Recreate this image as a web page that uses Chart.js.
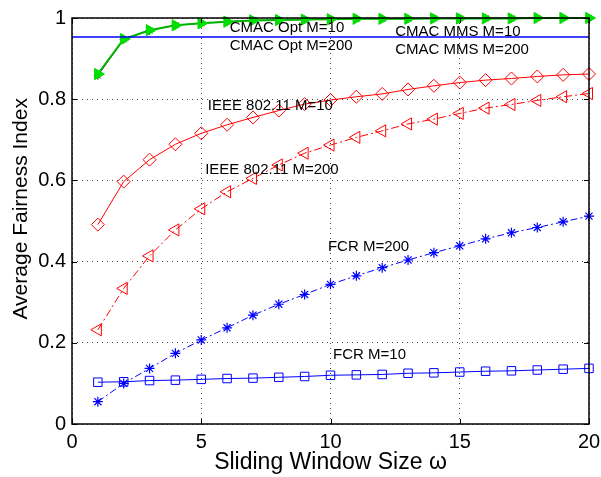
<!DOCTYPE html>
<html>
<head>
<meta charset="utf-8">
<script src="https://cdn.jsdelivr.net/npm/chart.js@4/dist/chart.umd.min.js"></script>
<style>
html,body{margin:0;padding:0;background:#fff;}
</style>
</head>
<body>
<canvas id="chart1canvas" width="601" height="477"></canvas>
<script>
/* Data */
const windowSizes=[1,2,3,4,5,6,7,8,9,10,11,12,13,14,15,16,17,18,19,20];
const cmacOpt=[0.862,0.948,0.970,0.982,0.987,0.991,0.994,0.995,0.996,0.997,0.998,0.998,0.998,0.999,0.999,0.999,0.999,1.0,1.0,1.0];
const cmacMms=[0.858,0.947,0.969,0.982,0.987,0.991,0.994,0.995,0.996,0.997,0.998,0.998,0.998,0.999,0.999,0.999,0.999,1.0,1.0,1.0];
const ieeeM10=[0.491,0.597,0.651,0.689,0.716,0.737,0.755,0.772,0.788,0.798,0.806,0.813,0.824,0.833,0.841,0.847,0.851,0.856,0.860,0.862];
const ieeeM200=[0.232,0.334,0.414,0.478,0.530,0.572,0.605,0.638,0.667,0.687,0.706,0.722,0.739,0.751,0.765,0.778,0.787,0.797,0.806,0.814];
const fcrM200=[0.055,0.100,0.137,0.174,0.207,0.237,0.268,0.295,0.319,0.344,0.365,0.385,0.404,0.422,0.439,0.456,0.471,0.484,0.498,0.512];
const fcrM10=[0.103,0.104,0.107,0.108,0.110,0.112,0.113,0.115,0.117,0.120,0.121,0.122,0.125,0.126,0.128,0.130,0.131,0.133,0.135,0.137];
const refLineX=[0,20];
const refLineY=[0.953,0.953];

/* Text labels inside the plot: text, x, y (data units) */
const labelTexts=["CMAC Opt M=10","CMAC Opt M=200","CMAC MMS M=10","CMAC MMS M=200","IEEE 802.11 M=10","IEEE 802.11 M=200","FCR M=200","FCR M=10"];
const labelX=[6.1,6.1,12.5,12.5,5.25,5.15,9.9,10.1];
const labelY=[0.975,0.931,0.966,0.921,0.783,0.626,0.437,0.170];

const yTitle="Average Fairness Index";

const FONT="'Liberation Sans', Arial, Helvetica, sans-serif";

function pts(ys, xs) {
  xs=xs||windowSizes;
  return ys.map((y,i)=>({x: xs[i], y: y}));
}

/* Box, inward ticks, y title and text labels like the original plot */
const boxPlugin={
  id: 'boxPlugin',
  afterDraw(chart) {
    const {ctx, chartArea: a, scales: {x, y}} = chart;
    ctx.save();
    ctx.strokeStyle="#000";
    ctx.lineWidth=1;
    const tl=5;
    ctx.beginPath();
    x.ticks.forEach(t=>{
      const px=Math.round(x.getPixelForValue(t.value))+0.5;
      ctx.moveTo(px,a.bottom); ctx.lineTo(px,a.bottom-tl);
      ctx.moveTo(px,a.top); ctx.lineTo(px,a.top+tl);
    });
    y.ticks.forEach(t=>{
      const py=Math.round(y.getPixelForValue(t.value))+0.5;
      ctx.moveTo(a.left,py); ctx.lineTo(a.left+tl,py);
      ctx.moveTo(a.right,py); ctx.lineTo(a.right-tl,py);
    });
    ctx.stroke();
    ctx.lineWidth=1.5;
    ctx.strokeRect(a.left,a.top,a.right-a.left,a.bottom-a.top);

    ctx.fillStyle="#000";
    ctx.font="15px "+FONT;
    ctx.textAlign="left";
    ctx.textBaseline="middle";
    for (let i=0;i<labelTexts.length;i++) {
      ctx.fillText(labelTexts[i],x.getPixelForValue(labelX[i]),y.getPixelForValue(labelY[i]));
    }

    /* y axis title, slightly above the plot centre as in the original */
    ctx.translate(21,y.getPixelForValue(0.53));
    ctx.rotate(-Math.PI/2);
    ctx.font="21px "+FONT;
    ctx.textAlign="center";
    ctx.fillText(yTitle,0,0);
    ctx.restore();
  }
};

const chartData={
  datasets: [
    {data: pts(ieeeM10), borderColor: "#ff0000", borderWidth: 1, pointStyle: 'rectRot', pointRadius: 6.5, pointBorderColor: "#ff0000", pointBackgroundColor: "rgba(0,0,0,0)", pointBorderWidth: 1},
    {data: pts(ieeeM200), borderColor: "#ff0000", borderWidth: 1, borderDash: [8,3,2,3], pointStyle: 'triangle', rotation: -90, pointRadius: 7, pointBorderColor: "#ff0000", pointBackgroundColor: "rgba(0,0,0,0)", pointBorderWidth: 1},
    {data: pts(fcrM200), borderColor: "#0000ff", borderWidth: 1, borderDash: [7,3,2,3], pointStyle: 'star', pointRadius: 5, pointBorderColor: "#0000ff", pointBorderWidth: 1.2},
    {data: pts(fcrM10), borderColor: "#0000ff", borderWidth: 1, pointStyle: 'rect', pointRadius: 6, pointBorderColor: "#0000ff", pointBackgroundColor: "rgba(0,0,0,0)", pointBorderWidth: 1},
    {data: pts(refLineY,refLineX), borderColor: "#0000ff", borderWidth: 1.5, pointRadius: 0},
    {data: pts(cmacOpt), borderColor: "#00b400", borderWidth: 2, pointStyle: 'triangle', rotation: 90, pointRadius: 6.5, pointBorderColor: "#00dd00", pointBackgroundColor: "#00dd00", pointBorderWidth: 1},
    {data: pts(cmacMms), borderColor: "#000000", borderWidth: 0.8, pointStyle: 'star', pointRadius: 4, pointBorderColor: "#000000", pointBorderWidth: 1}
  ]
};

const chartOptions={
  responsive: false,
  animation: false,
  layout: {padding: {top: 18, right: 12, left: 0, bottom: 0}},
  datasets: {line: {clip: false, tension: 0, fill: false}},
  scales: {
    x: {
      type: 'linear', min: 0, max: 20,
      afterFit: scale=>{scale.height=53; scale.paddingRight=0; scale.paddingLeft=0;},
      border: {display: false, dash: [1,4]},
      grid: {color: "#444", lineWidth: 1, drawTicks: false},
      ticks: {stepSize: 5, padding: 6, color: "#000", font: {family: FONT, size: 20}},
      title: {display: true, text: "Sliding Window Size \u03c9", color: "#000", font: {family: FONT, size: 23}, padding: {top: 0, bottom: 1}}
    },
    y: {
      min: 0, max: 1,
      afterFit: scale=>{scale.width=72; scale.paddingTop=0; scale.paddingBottom=0;},
      border: {display: false, dash: [1,4]},
      grid: {color: "#444", lineWidth: 1, drawTicks: false},
      ticks: {stepSize: 0.2, padding: 6, color: "#000", font: {family: FONT, size: 20}, callback: v=>Math.round(v*10)/10},
      title: {display: false}
    }
  },
  plugins: {legend: {display: false}, tooltip: {enabled: false}}
};

new Chart(document.getElementById("chart1canvas"),{type: 'line', data: chartData, options: chartOptions, plugins: [boxPlugin]});
</script>
</body>
</html>
